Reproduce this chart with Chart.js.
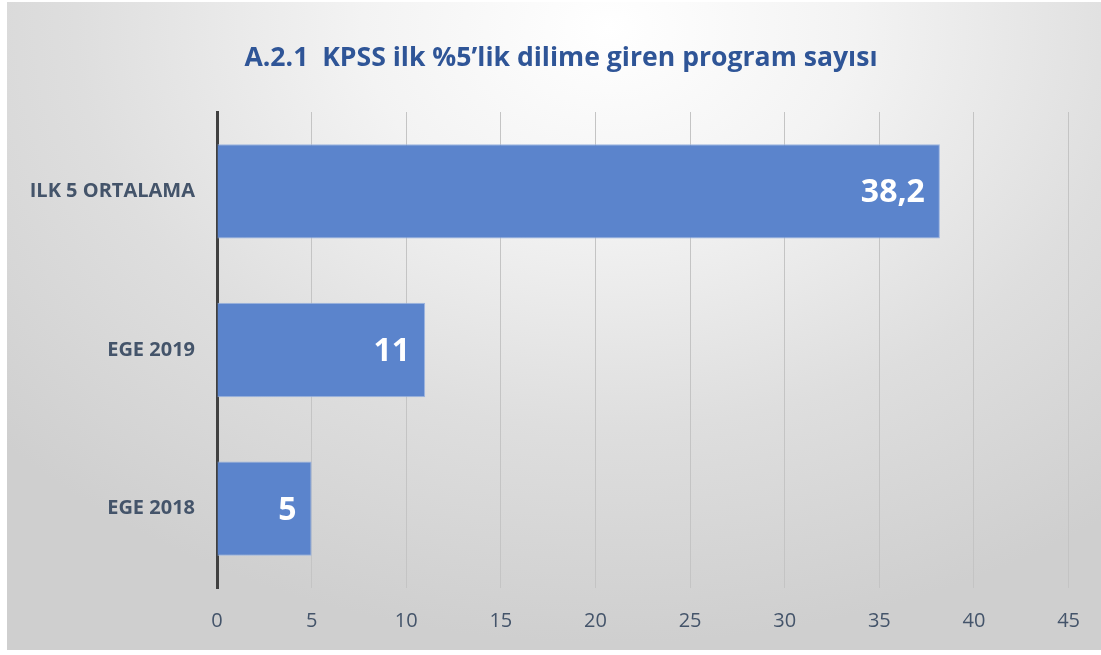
<!DOCTYPE html>
<html lang="tr">
<head>
    <meta charset="UTF-8" />
    <title>KPSS ilk %5</title>
    <script src="https://cdn.jsdelivr.net/npm/chart.js"></script>
    <style>
        html, body {
            margin: 0;
            padding: 0;
            background: #ffffff;
            width: 1101px;
            height: 655px;
            overflow: hidden;
        }

        .panel {
            position: absolute;
            left: 7px;
            top: 2px;
            width: 1094px;
            height: 648px;
            background: radial-gradient(ellipse 75% 95% at 55% 4%, #ffffff 0%, #f3f3f3 30%, #dedede 65%, #cfcfcf 100%);
        }

        #chart {
            position: absolute;
            left: 0;
            top: 0;
        }
    </style>
</head>
<body>
    <div class="panel"></div>
    <canvas id="chart" width="1101" height="655"></canvas>

    <script>
        // data
        const titleText = 'A.2.1  KPSS ilk %5\u2019lik dilime giren program sayısı';
        const categories = ['ILK 5 ORTALAMA', 'EGE 2019', 'EGE 2018'];
        const values = [38.2, 11, 5];
        const xTicks = [0, 5, 10, 15, 20, 25, 30, 35, 40, 45];

        const slate = '#44546A';
        const fontName = "'Open Sans', 'DejaVu Sans', sans-serif";

        // title, centred over the whole panel rather than the chart box
        const panelTitle = {
            id: 'panelTitle',
            afterDraw(chart) {
                const ctx = chart.ctx;
                ctx.save();
                ctx.fillStyle = '#2F5597';
                ctx.font = 'bold 26.6px ' + fontName;
                ctx.textAlign = 'center';
                ctx.textBaseline = 'middle';
                ctx.fillText(titleText, 561, 58);
                ctx.restore();
            }
        };

        // white value labels inside the end of each bar
        const valueLabels = {
            id: 'valueLabels',
            afterDatasetsDraw(chart) {
                const ctx = chart.ctx;
                const meta = chart.getDatasetMeta(0);
                ctx.save();
                ctx.fillStyle = '#ffffff';
                ctx.font = 'bold 32px ' + fontName;
                ctx.textAlign = 'right';
                ctx.textBaseline = 'middle';
                meta.data.forEach((bar, i) => {
                    const txt = String(values[i]).replace('.', ',');
                    ctx.fillText(txt, bar.x - 15, bar.y + 2);
                });
                ctx.restore();
            }
        };

        new Chart(document.getElementById('chart'), {
            type: 'bar',
            data: {
                labels: categories,
                datasets: [{
                    data: values,
                    backgroundColor: '#5B84CC',
                    borderColor: '#9DB5E0',
                    borderWidth: 1,
                    barPercentage: 0.595,
                    categoryPercentage: 1
                }]
            },
            options: {
                indexAxis: 'y',
                responsive: false,
                animation: false,
                layout: { padding: { left: 0, right: 31, top: 112, bottom: 0 } },
                plugins: {
                    legend: { display: false },
                    tooltip: { enabled: false },
                    title: { display: false }
                },
                scales: {
                    x: {
                        min: 0,
                        max: 45,
                        afterBuildTicks: scale => { scale.ticks = xTicks.map(v => ({ value: v })); },
                        afterFit: scale => { scale.height = 67; },
                        grid: { color: '#c4c4c4', lineWidth: 1, drawTicks: false },
                        border: { display: false },
                        ticks: {
                            color: slate,
                            font: { family: fontName, size: 20 },
                            padding: 21
                        }
                    },
                    y: {
                        afterFit: scale => { scale.width = 217; },
                        grid: { display: false, drawTicks: false },
                        border: { display: true, color: '#404040', width: 3 },
                        ticks: {
                            color: slate,
                            font: { family: fontName, size: 20, weight: 'bold' },
                            padding: 22
                        }
                    }
                }
            },
            plugins: [valueLabels, panelTitle]
        });
    </script>
</body>
</html>
